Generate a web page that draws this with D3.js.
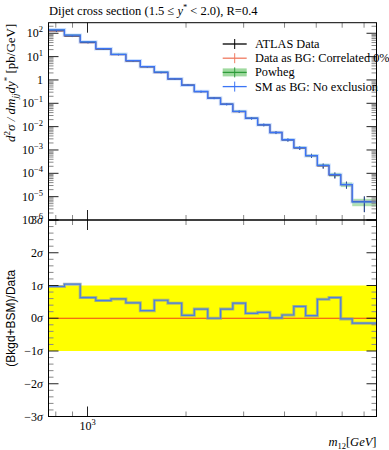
<!DOCTYPE html>
<html><head><meta charset="utf-8">
<script src="https://cdn.jsdelivr.net/npm/d3@7"></script>
<style>
body{margin:0;background:#fff}
text{font-family:"Liberation Serif",serif;fill:#000}
</style></head><body>
<svg width="389" height="450"></svg>
<script>
// bin edges in m12 [GeV]
var edges = [760,850,950,1060,1180,1310,1450,1600,1760,1940,2120,2330,2550,2780,3040,3310,3610,3930,4270,4640,5040,5470,5940,6440,7640];
// SM as BG (Powheg) and measured data, pb/GeV
var sm = [140,83,42.5,22,12.6,6.7,3.7,2.15,1.12,0.6,0.32,0.168,0.093,0.045,0.023,0.012,0.0056,0.00275,0.00126,0.00057,0.00022,0.000088,0.000033,0.000006];
var data = [128,75,40,21,12.2,6.5,3.65,2.08,1.1,0.6,0.315,0.168,0.091,0.044,0.0226,0.0119,0.0056,0.0027,0.00122,0.00057,0.00021,0.000084,0.000033,0.0000062];
// relative uncertainties
var dataErr = [0.09,0.08,0.07,0.07,0.07,0.07,0.07,0.07,0.08,0.08,0.09,0.1,0.1,0.11,0.12,0.13,0.14,0.15,0.17,0.2,0.24,0.28,0.33,0.65];
var powhegErr = [0.05,0.05,0.05,0.05,0.05,0.05,0.05,0.05,0.06,0.06,0.06,0.07,0.07,0.08,0.08,0.09,0.1,0.1,0.12,0.13,0.15,0.18,0.22,0.35];
// (Bkgd+BSM)/Data in sigma
var pull = [0.97,1.04,0.63,0.54,0.59,0.47,0.23,0.55,0.46,0.09,0.28,0.0,0.28,0.46,0.15,0.18,0.01,0.10,0.36,0.08,0.58,0.63,-0.02,-0.15];

var yExps = [2,1,0,-1,-2,-3,-4,-5,-6];
var sigmaTicks = [3,2,1,0,-1,-2,-3];
var xMinor = [800,900,2000,3000,4000,5000,6000,7000];
var xMajor = [1000];
var legendItems = ["ATLAS Data","Data as BG: Correlated 0%","Powheg","SM as BG: No exclusion"];

var svg = d3.select("svg");
var L = 48.5, R = 376.5, T = 22.7, M = 220, B = 416.5;

var x = d3.scaleLog().domain([760, 7640]).range([L, R]);
var y = d3.scaleLog().domain([1e-6, 284]).range([M, T]);
var yr = d3.scaleLinear().domain([-3, 3]).range([B, M]);

var bins = d3.range(edges.length - 1).map(function(i) {
  return {lo: edges[i], hi: edges[i+1], mid: Math.sqrt(edges[i]*edges[i+1]),
    sm: sm[i], data: data[i], de: dataErr[i], pe: powhegErr[i], pull: pull[i]};
});

function steps(key) {
  var pts = [];
  bins.forEach(function(b) { pts.push([b.lo, b[key]]); pts.push([b.hi, b[key]]); });
  return pts;
}
var line = d3.line().x(d => x(d[0])).y(d => y(d[1]));
var lineR = d3.line().x(d => x(d[0])).y(d => yr(d[1]));

// ---- main panel ----
var g = svg.append("g");

g.selectAll("rect.band").data(bins).enter().append("rect")
  .attr("x", d => x(d.lo)).attr("width", d => x(d.hi) - x(d.lo))
  .attr("y", d => y(d.sm * (1 + d.pe))).attr("height", d => y(d.sm * (1 - d.pe)) - y(d.sm * (1 + d.pe)))
  .attr("fill", "#9ed99e").attr("opacity", 0.8);

g.append("path").attr("d", line(steps("sm"))).attr("fill", "none")
  .attr("stroke", "#2e9c3a").attr("stroke-width", 1.2);
g.append("path").attr("d", line(steps("data"))).attr("fill", "none")
  .attr("stroke", "#e8502e").attr("stroke-width", 1.3);

// data points
g.selectAll("line.derr").data(bins).enter().append("line")
  .attr("x1", d => x(d.mid)).attr("x2", d => x(d.mid))
  .attr("y1", d => y(d.data * (1 + d.de))).attr("y2", d => y(Math.max(d.data * (1 - d.de), 1.1e-6)))
  .attr("stroke", "#000").attr("stroke-width", 1);
g.selectAll("line.dx").data(bins).enter().append("line")
  .attr("x1", d => x(d.lo)).attr("x2", d => x(d.hi))
  .attr("y1", d => y(d.data)).attr("y2", d => y(d.data))
  .attr("stroke", "#000").attr("stroke-width", 1);

// SM as BG on top
g.append("path").attr("d", line(steps("sm"))).attr("fill", "none")
  .attr("stroke", "#8fbaff").attr("stroke-width", 3.5).attr("opacity", 0.45);
g.append("path").attr("d", line(steps("sm"))).attr("fill", "none")
  .attr("stroke", "#3b74f5").attr("stroke-width", 1.3);
g.selectAll("line.serr").data(bins).enter().append("line")
  .attr("x1", d => x(d.mid)).attr("x2", d => x(d.mid))
  .attr("y1", d => y(d.data * (1 + d.de))).attr("y2", d => y(Math.max(d.data * (1 - d.de), 1.1e-6)))
  .attr("stroke", "#3b74f5").attr("stroke-width", 1).attr("opacity", 0.6);

// ---- ratio panel ----
var r = svg.append("g");
r.append("rect").attr("x", L).attr("width", R - L)
  .attr("y", yr(1)).attr("height", yr(-1) - yr(1)).attr("fill", "#ffff00");
r.append("line").attr("x1", L).attr("x2", R).attr("y1", yr(0)).attr("y2", yr(0))
  .attr("stroke", "#f0401a").attr("stroke-width", 1.2);
r.append("path").attr("d", lineR(steps("pull"))).attr("fill", "none")
  .attr("stroke", "#8a9aa0").attr("stroke-width", 3).attr("opacity", 0.7);
r.append("path").attr("d", lineR(steps("pull"))).attr("fill", "none")
  .attr("stroke", "#4a7fe0").attr("stroke-width", 1.2);

// ---- frames and ticks ----
var ax = svg.append("g").attr("stroke-width", 1);
function tick(x1, y1, x2, y2, major) {
  ax.append("line").attr("x1", x1).attr("y1", y1).attr("x2", x2).attr("y2", y2)
    .attr("stroke", major ? "#222" : "#888");
}
// x ticks on all horizontal edges
xMinor.concat(xMajor).forEach(function(v) {
  var big = xMajor.indexOf(v) >= 0, len = big ? 10 : 5, px = x(v);
  tick(px, T, px, T + len, big);
  tick(px, M, px, M - len, big);
  tick(px, M, px, M + len, big);
  tick(px, B, px, B - len, big);
});
// main y ticks
yExps.forEach(function(e) {
  var v = Math.pow(10, e);
  tick(L, y(v), L + 10, y(v), true);
  tick(R, y(v), R - 10, y(v), true);
  for (var k = 2; k < 10; k++) {
    var mv = k * v;
    if (mv > 284) continue;
    tick(L, y(mv), L + 5, y(mv), false);
    tick(R, y(mv), R - 5, y(mv), false);
  }
});
// ratio y ticks
d3.range(-3, 3.01, 0.2).forEach(function(v) {
  var major = Math.abs(v - Math.round(v)) < 1e-6, len = major ? 10 : 5;
  tick(L, yr(v), L + len, yr(v), major);
  tick(R, yr(v), R - len, yr(v), major);
});
ax.append("rect").attr("x", L).attr("y", T).attr("width", R - L).attr("height", M - T)
  .attr("fill", "none").attr("stroke", "#000");
ax.append("rect").attr("x", L).attr("y", M).attr("width", R - L).attr("height", B - M)
  .attr("fill", "none").attr("stroke", "#000");

// ---- labels ----
var lab = svg.append("g").attr("font-size", 12);
yExps.forEach(function(e) {
  var t = lab.append("text").attr("x", 43).attr("y", y(Math.pow(10, e)) + 4).attr("text-anchor", "end");
  if (e === 0) { t.text("1"); return; }
  t.append("tspan").text("10");
  t.append("tspan").attr("dy", -5).attr("font-size", 8.5).text(String(e).replace("-", "\u2212"));
});
sigmaTicks.forEach(function(s) {
  var t = lab.append("text").attr("x", 43).attr("y", yr(s) + 4).attr("text-anchor", "end");
  t.append("tspan").text(String(s).replace("-", "\u2212"));
  t.append("tspan").attr("font-style", "italic").text("\u03c3");
});
xMajor.forEach(function(v) {
  var t = lab.append("text").attr("x", x(v)).attr("y", 430).attr("text-anchor", "middle");
  t.append("tspan").text("10");
  t.append("tspan").attr("dy", -5).attr("font-size", 8.5).text("3");
});
var xl = lab.append("text").attr("x", R).attr("y", 446).attr("text-anchor", "end").attr("font-size", 12.5);
xl.append("tspan").attr("font-style", "italic").text("m");
xl.append("tspan").attr("dy", 3).attr("font-size", 8.5).text("12");
xl.append("tspan").attr("dy", -3).text("[");
xl.append("tspan").attr("font-style", "italic").text("GeV");
xl.append("tspan").text("]");

var yl = lab.append("text").attr("transform", "translate(15," + (T + 1) + ") rotate(-90)")
  .attr("text-anchor", "end").attr("font-size", 13);
yl.append("tspan").attr("font-style", "italic").text("d");
yl.append("tspan").attr("dy", -5).attr("font-size", 9).text("2");
yl.append("tspan").attr("dy", 5).attr("font-style", "italic").text("\u03c3 / dm");
yl.append("tspan").attr("dy", 3).attr("font-size", 9).attr("font-style", "italic").text("jj");
yl.append("tspan").attr("dy", -3).attr("font-style", "italic").text("dy");
yl.append("tspan").attr("dy", -5).attr("font-size", 9).text("*");
yl.append("tspan").attr("dy", 5).text(" [pb/GeV]");

lab.append("text").attr("transform", "translate(15," + yr(0) + ") rotate(-90)")
  .attr("text-anchor", "middle").style("font-family", "'Liberation Sans',sans-serif")
  .text("(Bkgd+BSM)/Data");

var title = lab.append("text").attr("x", 49).attr("y", 15).attr("font-size", 12.5);
title.append("tspan").text("Dijet cross section (1.5 \u2264 ");
title.append("tspan").attr("font-style", "italic").text("y");
title.append("tspan").attr("dy", -5).attr("font-size", 8.5).text("*");
title.append("tspan").attr("dy", 5).text(" < 2.0), R=0.4");

// ---- legend ----
var leg = svg.append("g");
var lx0 = 222.7, lx1 = 246.7, lxc = 234.7;
var styles = [
  {c: "#000"}, {c: "#f07a60"}, {c: "#2e9c3a", band: "#9ed99e"}, {c: "#3b74f5"}
];
legendItems.forEach(function(name, i) {
  var yy = 44 + i * 14.2, st = styles[i];
  if (st.band) leg.append("rect").attr("x", lx0).attr("y", yy - 4).attr("width", lx1 - lx0).attr("height", 8).attr("fill", st.band);
  leg.append("line").attr("x1", lx0).attr("x2", lx1).attr("y1", yy).attr("y2", yy).attr("stroke", st.c).attr("stroke-width", 1.3);
  leg.append("line").attr("x1", lxc).attr("x2", lxc).attr("y1", yy - 5).attr("y2", yy + 5).attr("stroke", st.c).attr("stroke-width", 1);
  leg.append("text").attr("x", 255).attr("y", yy + 4).attr("font-size", 12.3).text(name);
});
</script>
</body></html>
